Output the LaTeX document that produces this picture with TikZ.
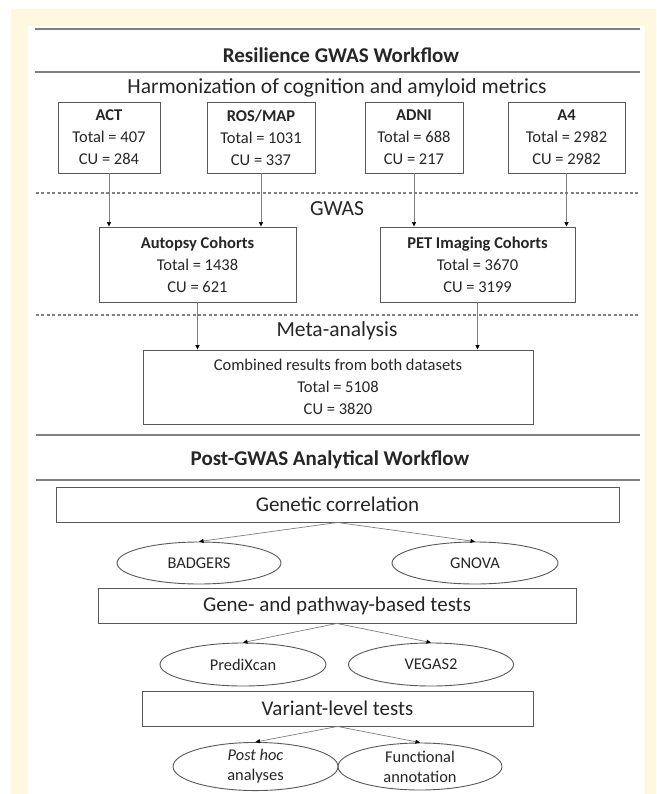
\documentclass[tikz,border=0pt]{standalone}
\usepackage{fontspec}
\setmainfont{Carlito}
\usetikzlibrary{shapes.geometric,arrows.meta}
\definecolor{cream}{HTML}{FFF8E1}
\definecolor{txt}{HTML}{262626}
\definecolor{boxc}{HTML}{595959}
\definecolor{sepc}{HTML}{808080}
\definecolor{arrc}{HTML}{7F7F7F}
\tikzset{
  sep/.style={draw=sepc, line width=1.6pt},
  dsep/.style={draw=sepc, line width=1.1pt, dash pattern=on 3pt off 2.4pt},
  head/.style={font=\fontsize{21}{24}\selectfont\bfseries, text=txt, inner sep=0},
  label/.style={font=\fontsize{21.5}{24}\selectfont, text=txt, inner sep=0},
  databox/.style={draw=boxc, line width=0.9pt, align=center, inner sep=0, text=txt,
    font=\fontsize{16.5}{22}\selectfont},
  stagebox/.style={draw=boxc, line width=0.9pt, inner sep=0, text=txt,
    font=\fontsize{21}{24}\selectfont},
  toolell/.style={ellipse, draw=boxc, line width=0.9pt, inner sep=0, align=center, text=txt,
    font=\fontsize{16.4}{20}\selectfont},
  arr/.style={draw=arrc, line width=0.7pt, -{Triangle[length=4.5pt,width=4pt,color=black]}},
}
\begin{document}
\begin{tikzpicture}[x=1pt,y=-1pt]
\useasboundingbox (0,0) rectangle (656,794);
\fill[cream] (11,9) rectangle (656,794);
\fill[white] (28,26) rectangle (645,794);

% separators
\draw[sep] (35,29) -- (640,29);
\draw[sep] (35,72) -- (640,72);
\draw[dsep] (36,193) -- (640,193);
\draw[dsep] (36,315) -- (640,315);
\draw[sep] (36,435) -- (640,435);
\draw[sep] (36,480) -- (640,480);

% labels
\node[head] (t1) at (341,55) {Resilience GWAS Workflow};
\node[label] (harm) at (337,88) {Harmonization of cognition and amyloid metrics};
\node[label] (gwas) at (337,209) {GWAS};
\node[label] (meta) at (337,331) {Meta-analysis};
\node[head] (t2) at (330,460) {Post-GWAS Analytical Workflow};

% cohort boxes
\node[databox, minimum width=102pt, minimum height=71pt] (act) at (109,137.5)
  {\textbf{ACT}\\Total = 407\\CU = 284};
\node[databox, minimum width=108pt, minimum height=71pt] (ros) at (261,137.5)
  {\textbf{ROS/MAP}\\Total = 1031\\CU = 337};
\node[databox, minimum width=98pt, minimum height=71pt] (adni) at (414,137.5)
  {\textbf{ADNI}\\Total = 688\\CU = 217};
\node[databox, minimum width=117pt, minimum height=71pt] (a4) at (566.5,137.5)
  {\textbf{A4}\\Total = 2982\\CU = 2982};

\node[databox, minimum width=197pt, minimum height=75pt] (aut) at (197.5,264.5)
  {\textbf{Autopsy Cohorts}\\Total = 1438\\CU = 621};
\node[databox, minimum width=195pt, minimum height=75pt] (pet) at (477.5,264.5)
  {\textbf{PET Imaging Cohorts}\\Total = 3670\\CU = 3199};

\node[databox, minimum width=390pt, minimum height=74pt] (comb) at (338,387)
  {Combined results from both datasets\\Total = 5108\\CU = 3820};

\draw[arr] (act.south) -- (act.south |- aut.north);
\draw[arr] (ros.south) -- (ros.south |- aut.north);
\draw[arr] (adni.south) -- (adni.south |- pet.north);
\draw[arr] (a4.south) -- (a4.south |- pet.north);
\draw[arr] (aut.south) -- (aut.south |- comb.north);
\draw[arr] (pet.south) -- (pet.south |- comb.north);

% post-GWAS
\node[stagebox, minimum width=563pt, minimum height=35pt] (gc) at (337.5,504.5) {Genetic correlation};
\node[toolell, minimum width=164pt, minimum height=42pt] (bad) at (199,563) {BADGERS};
\node[toolell, minimum width=166pt, minimum height=42pt] (gno) at (475,563) {GNOVA};
\node[stagebox, minimum width=478pt, minimum height=35pt] (gp) at (337,605.5) {Gene- and pathway-based tests};
\node[toolell, minimum width=166pt, minimum height=43pt] (pred) at (243,664.5) {PrediXcan};
\node[toolell, minimum width=165pt, minimum height=43pt] (veg) at (431,664.5) {VEGAS2};
\node[stagebox, minimum width=391pt, minimum height=35pt] (var) at (337.5,708.5) {Variant-level tests};
\node[toolell, minimum width=165pt, minimum height=47pt] (ph) at (255.5,766.5) {\textit{Post hoc}\\analyses};
\node[toolell, minimum width=164pt, minimum height=47pt] (fa) at (420,766.5) {Functional\\annotation};

\draw[arr] (gc.south) -- (bad.north);
\draw[arr] (gc.south) -- (gno.north);
\draw[arr] (gp.south) -- (pred.north);
\draw[arr] (gp.south) -- (veg.north);
\draw[arr] (var.south) -- (ph.north);
\draw[arr] (var.south) -- (fa.north);
\end{tikzpicture}
\end{document}
